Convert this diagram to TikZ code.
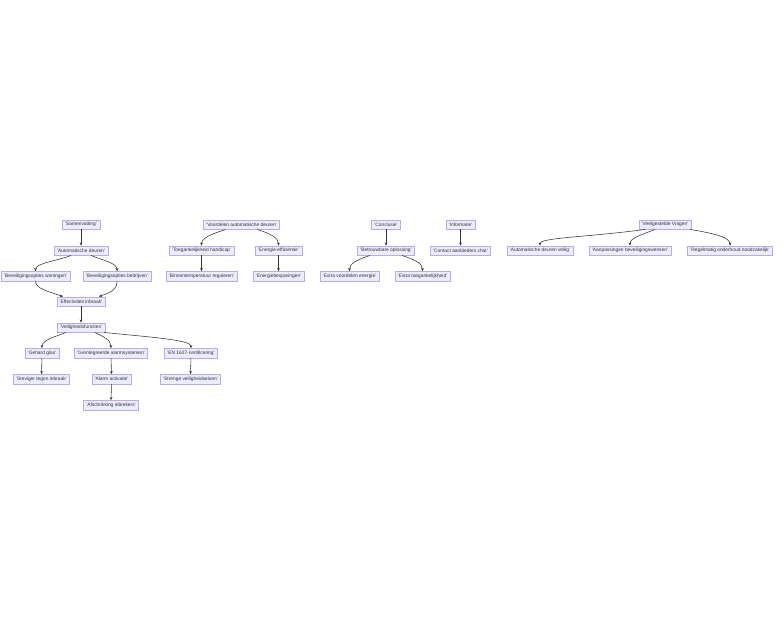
\documentclass[tikz,border=0pt]{standalone}
\usepackage{fontspec}
\setmainfont{Liberation Sans}
\usetikzlibrary{positioning,arrows.meta}

\definecolor{boxfill}{HTML}{ECECFF}
\definecolor{boxline}{HTML}{9370DB}
\definecolor{edgeline}{HTML}{333333}

\begin{document}
\begin{tikzpicture}[
		x=1pt, y=-1pt
		,every node/.append style={rectangle, draw=boxline!60, fill=boxfill, line width=.4pt, text=edgeline, font=\fontsize{4.85}{5.5}\selectfont, inner xsep=2.8pt, inner ysep=0pt, minimum height=9.5pt}
		,e/.style={draw=edgeline, line width=.55pt, -{Stealth[length=3pt, width=2.8pt]}}
	]
		\useasboundingbox (0,0) rectangle (784,630);
		% Samenvatting
		\node (sam) at (81,224.5) {'Samenvatting'};
		\node (aut) at (81,250.5) {'Automatische deuren'};
		\node (bw) at (35.5,276) {'Beveiligingsopties woningen'};
		\node (bb) at (117,276) {'Beveiligingsopties bedrijven'};
		\node (eff) at (81,301.5) {'Effectiviteit inbraak'};
		\node (vei) at (81,327.5) {'Veiligheidsfuncties'};
		\node (gg) at (42,353) {'Gehard glas'};
		\node (gi) at (111,353) {'Geïntegreerde alarmsystemen'};
		\node (en) at (191,353) {'EN 1627-certificering'};
		\node (st) at (41.5,379) {'Steviger tegen inbraak'};
		\node (aa) at (111.5,379) {'Alarm activatie'};
		\node (sv) at (190.5,379) {'Strenge veiligheidseisen'};
		\node (af) at (111,405) {'Afschrikking inbrekers'};
		% Voordelen
		\node (vd) at (241.5,224.5) {'Voordelen automatische deuren'};
		\node (th) at (201.5,250.5) {'Toegankelijkheid handicap'};
		\node (ee) at (278.5,250.5) {'Energie-efficiëntie'};
		\node (bi) at (201.5,276) {'Binnentemperatuur reguleren'};
		\node (eb) at (278.5,276) {'Energiebesparingen'};
		% Conclusie, Informatie
		\node (con) at (386,224.5) {'Conclusie'};
		\node (bet) at (386,250.5) {'Betrouwbare oplossing'};
		\node (ev) at (349.5,276) {'Extra voordelen energie'};
		\node (et) at (422.5,276) {'Extra toegankelijkheid'};
		\node (inf) at (460.5,224.5) {'Informatie'};
		\node (cac) at (460.5,250.5) {'Contact aanbieders chat'};
		% Vragen
		\node (vv) at (665,224.5) {'Veelgestelde Vragen'};
		\node (adv) at (540,250.5) {'Automatische deuren veilig'};
		\node (abw) at (630,250.5) {'Aanpassingen beveiligingswensen'};
		\node (ron) at (730,250.5) {'Regelmatig onderhoud noodzakelijk'};

		\draw[e] (sam) -- (aut);
		\draw[e] ([xshift=-10pt]aut.south) .. controls +(-12,5) and +(0,-8) .. (bw.north);
		\draw[e] ([xshift=10pt]aut.south) .. controls +(12,5) and +(0,-8) .. (bb.north);
		\draw[e] (bw.south) .. controls +(0,8) and +(-14,-5) .. ([xshift=-18pt]eff.north);
		\draw[e] (bb.south) .. controls +(0,8) and +(14,-5) .. ([xshift=18pt]eff.north);
		\draw[e] (eff) -- (vei);
		\draw[e] ([xshift=-15pt]vei.south) .. controls +(-10,4) and +(0,-8) .. (gg.north);
		\draw[e] ([xshift=14pt]vei.south) .. controls +(8,4) and +(0,-8) .. (gi.north);
		\draw[e] ([xshift=-1pt]vei.south east) .. controls +(50,5) and +(0,-8) .. (en.north);
		\draw[e] (gg) -- (st);
		\draw[e] (gi) -- (aa);
		\draw[e] (aa) -- (af);
		\draw[e] (en) -- (sv);
		\draw[e] ([xshift=-16pt]vd.south) .. controls +(-12,4) and +(0,-8) .. (th.north);
		\draw[e] ([xshift=16pt]vd.south) .. controls +(12,4) and +(0,-8) .. (ee.north);
		\draw[e] (th) -- (bi);
		\draw[e] (ee) -- (eb);
		\draw[e] (con) -- (bet);
		\draw[e] ([xshift=-16pt]bet.south) .. controls +(-12,4) and +(0,-8) .. (ev.north);
		\draw[e] ([xshift=16pt]bet.south) .. controls +(12,4) and +(0,-8) .. (et.north);
		\draw[e] (inf) -- (cac);
		\draw[e] ([xshift=-20pt]vv.south) .. controls +(-60,8) and +(0,-8) .. (adv.north);
		\draw[e] ([xshift=-10pt]vv.south) .. controls +(-12,5) and +(0,-8) .. (abw.north);
		\draw[e] ([xshift=25pt]vv.south) .. controls +(25,4) and +(0,-8) .. (ron.north);
	\end{tikzpicture}
\end{document}
